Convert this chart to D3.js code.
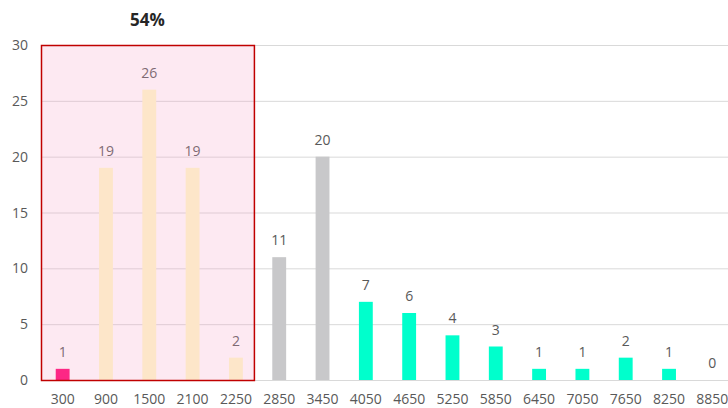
<!DOCTYPE html>
<html><head><meta charset="utf-8">
<script src="https://cdn.jsdelivr.net/npm/d3@7"></script>
<style>body{margin:0;background:#fff}svg{display:block;font-family:"Open Sans",sans-serif}</style>
</head><body>
<svg id="c" width="728" height="408"></svg>
<script>
const categories = ["300","900","1500","2100","2250","2850","3450","4050","4650","5250","5850","6450","7050","7650","8250","8850"];
const values = [1,19,26,19,2,11,20,7,6,4,3,1,1,2,1,0];
const barColors = ["#FF0070","#FFFBCA","#FFFBCA","#FFFBCA","#FFFBCA","#C8C8CA","#C8C8CA","#00FFCC","#00FFCC","#00FFCC","#00FFCC","#00FFCC","#00FFCC","#00FFCC","#00FFCC","#00FFCC"];
const yTicks = [0,5,10,15,20,25,30];
const highlightCats = ["300","2250"];
const highlightLabel = "54%";

(function(){
const svg = d3.select("#c");
const mLeft = 41, mRight = 734, mTop = 45, mBottom = 380;
const x = d3.scaleBand().domain(categories).range([mLeft, mRight]).paddingInner(0.68).paddingOuter(0.34);
const y = d3.scaleLinear().domain([0,30]).range([mBottom, mTop]);

svg.append("g").selectAll("line").data(yTicks).join("line")
  .attr("x1", mLeft).attr("x2", 728).attr("y1", d=>y(d)+0.5).attr("y2", d=>y(d)+0.5)
  .attr("stroke", "#D9D9D9").attr("stroke-width", 1);

svg.append("g").selectAll("text").data(yTicks).join("text")
  .attr("x", 28).attr("y", d=>y(d)+5).attr("text-anchor","end")
  .attr("font-size", 14).attr("fill","#595959").text(d=>d);

svg.append("g").selectAll("rect").data(values).join("rect")
  .attr("x", (d,i)=>x(categories[i])).attr("width", x.bandwidth())
  .attr("y", d=>y(d)).attr("height", d=>y(0)-y(d))
  .attr("fill", (d,i)=>barColors[i]);

svg.append("g").selectAll("text").data(values).join("text")
  .attr("x", (d,i)=>x(categories[i])+x.bandwidth()/2).attr("y", d=>y(d)-12)
  .attr("text-anchor","middle").attr("font-size",14).attr("fill","#595959").text(d=>d);

svg.append("g").selectAll("text").data(categories).join("text")
  .attr("x", d=>x(d)+x.bandwidth()/2).attr("y", 404)
  .attr("text-anchor","middle").attr("font-size",14).attr("fill","#595959").text(d=>d);

const hx0 = mLeft;
const hx1 = x(highlightCats[1]) + x.bandwidth()/2 + 18;
svg.append("rect").attr("x", hx0+0.5).attr("y", y(30)+0.5)
  .attr("width", hx1-hx0).attr("height", y(0)-y(30))
  .attr("fill","rgb(247,164,201)").attr("fill-opacity",0.24)
  .attr("stroke","#C00000").attr("stroke-width",1.5);

svg.append("text").attr("x", (hx0+hx1)/2).attr("y", 26).attr("text-anchor","middle")
  .attr("font-size",17).attr("font-weight","bold").attr("fill","#262626").text(highlightLabel);
})();
</script>
</body></html>
